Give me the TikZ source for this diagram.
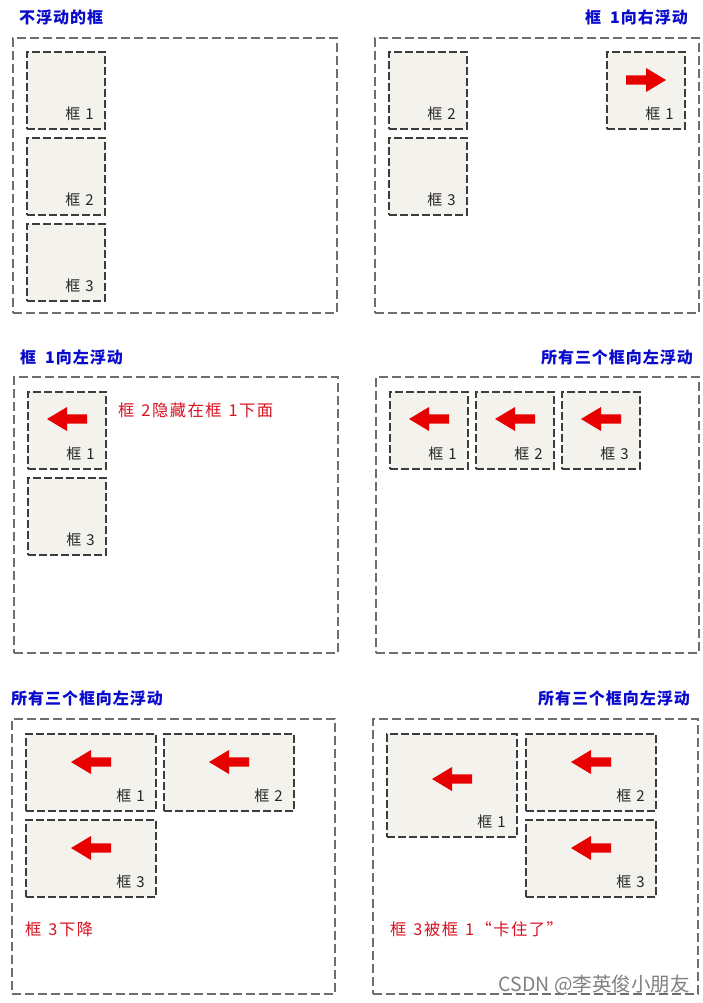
\documentclass[tikz,border=0pt]{standalone}
\usepackage{fontspec}
\setmainfont{Noto Sans CJK SC}
\newfontfamily\cjkls[LetterSpace=6]{Noto Sans CJK SC}
\newfontfamily\cjknote[LetterSpace=9]{Noto Sans CJK SC}
\definecolor{boxfill}{HTML}{F4F2EC}
\definecolor{ttlblue}{HTML}{0A0ACC}
\definecolor{notered}{HTML}{D81020}
\definecolor{arrowred}{HTML}{E60000}
\definecolor{outergray}{HTML}{6E6E6E}
\definecolor{innergray}{HTML}{3C3C3C}
\tikzset{
  outerbox/.style={draw=outergray, line width=1.5pt, dash pattern=on 9pt off 4pt, minimum width=#1, anchor=north west, inner sep=0pt, outer sep=0pt},
  fbox/.style={draw=innergray, fill=boxfill, line width=1.7pt, dash pattern=on 8pt off 3pt, anchor=north west, inner sep=0pt, outer sep=0pt},
  sq/.style={fbox, minimum width=78pt, minimum height=77pt},
  wide/.style={fbox, minimum width=130pt, minimum height=77pt},
  ttl/.style={font=\cjkls\fontsize{16}{17}\selectfont\bfseries, text=ttlblue, inner sep=0pt},
  lbl/.style={font=\fontsize{15}{16}\selectfont, text=black!85, inner sep=0pt, anchor=east},
  note/.style={font=\cjknote\fontsize{16.3}{17}\selectfont, text=notered, inner sep=0pt, anchor=west},
  larrow/.pic={\fill[arrowred] (-20,0) -- (0,-12) -- (0,-4.7) -- (20,-4.7) -- (20,4.7) -- (0,4.7) -- (0,12) -- cycle;},
  rarrow/.pic={\fill[arrowred] (20,0) -- (0,-12) -- (0,-4.7) -- (-20,-4.7) -- (-20,4.7) -- (0,4.7) -- (0,12) -- cycle;},
}
\newcommand{\boxlabel}[2]{\node[lbl] at ([xshift=-11pt,yshift=15.5pt]#1.south east) {框\hspace{5pt}#2};}
\newcommand{\tsp}{\hspace{9pt}}
\newcommand{\nsp}{\hspace{7pt}}
\begin{document}
\begin{tikzpicture}[x=1pt,y=-1pt]
\useasboundingbox (0,0) rectangle (703,1003);
\fill[white] (0,0) rectangle (703,1003);

% ---------- Panel 1 ----------
\node[ttl, anchor=west] (t1) at (19,17) {不浮动的框};
\node[outerbox=324pt, minimum height=275pt] (o1) at (13,38) {};
\node[sq] (a1) at (27,52) {}; \boxlabel{a1}{1}
\node[sq] (a2) at (27,138) {}; \boxlabel{a2}{2}
\node[sq] (a3) at (27,224) {}; \boxlabel{a3}{3}

% ---------- Panel 2 ----------
\node[ttl, anchor=east] (t2) at (688,17) {框\tsp 1向右浮动};
\node[outerbox=324pt, minimum height=275pt] (o2) at (375,38) {};
\node[sq] (b2) at (389,52) {}; \boxlabel{b2}{2}
\node[sq] (b3) at (389,138) {}; \boxlabel{b3}{3}
\node[sq] (b1) at (607,52) {}; \boxlabel{b1}{1}
\pic at ([yshift=-28pt]b1.north) {rarrow};

% ---------- Panel 3 ----------
\node[ttl, anchor=west] (t3) at (20,357) {框\tsp 1向左浮动};
\node[outerbox=324pt, minimum height=276pt] (o3) at (14,377) {};
\node[sq] (c1) at (28,392) {}; \boxlabel{c1}{1}
\pic at ([yshift=-27pt]c1.north) {larrow};
\node[sq] (c3) at (28,478) {}; \boxlabel{c3}{3}
\node[note] (n3) at (118,410) {框\nsp 2隐藏在框\nsp 1下面};

% ---------- Panel 4 ----------
\node[ttl, anchor=east] (t4) at (693,357) {所有三个框向左浮动};
\node[outerbox=323pt, minimum height=276pt] (o4) at (376,377) {};
\node[sq] (d1) at (390,392) {}; \boxlabel{d1}{1}
\pic at ([yshift=-27pt]d1.north) {larrow};
\node[sq] (d2) at (476,392) {}; \boxlabel{d2}{2}
\pic at ([yshift=-27pt]d2.north) {larrow};
\node[sq] (d3) at (562,392) {}; \boxlabel{d3}{3}
\pic at ([yshift=-27pt]d3.north) {larrow};

% ---------- Panel 5 ----------
\node[ttl, anchor=west] (t5) at (11,698) {所有三个框向左浮动};
\node[outerbox=323pt, minimum height=275pt] (o5) at (12,719) {};
\node[wide] (e1) at (26,734) {}; \boxlabel{e1}{1}
\pic at ([yshift=-28pt]e1.north) {larrow};
\node[wide] (e2) at (164,734) {}; \boxlabel{e2}{2}
\pic at ([yshift=-28pt]e2.north) {larrow};
\node[wide] (e3) at (26,820) {}; \boxlabel{e3}{3}
\pic at ([yshift=-28pt]e3.north) {larrow};
\node[note] (n5) at (25,929) {框\nsp 3下降};

% ---------- Panel 6 ----------
\node[ttl, anchor=east] (t6) at (690,698) {所有三个框向左浮动};
\node[outerbox=325pt, minimum height=275pt] (o6) at (373,719) {};
\node[fbox, minimum width=130pt, minimum height=103pt] (f1) at (387,734) {}; \boxlabel{f1}{1}
\pic at ([yshift=-45pt]f1.north) {larrow};
\node[wide] (f2) at (526,734) {}; \boxlabel{f2}{2}
\pic at ([yshift=-28pt]f2.north) {larrow};
\node[wide] (f3) at (526,820) {}; \boxlabel{f3}{3}
\pic at ([yshift=-28pt]f3.north) {larrow};
\node[note] (n6) at (390,929) {框\nsp 3被框\nsp 1“卡住了”};

% watermark
\node[font=\fontsize{19.5}{20}\selectfont, text=black!50, inner sep=0pt, anchor=east] (wm) at (690,985) {CSDN @李英俊小朋友};
\end{tikzpicture}
\end{document}
